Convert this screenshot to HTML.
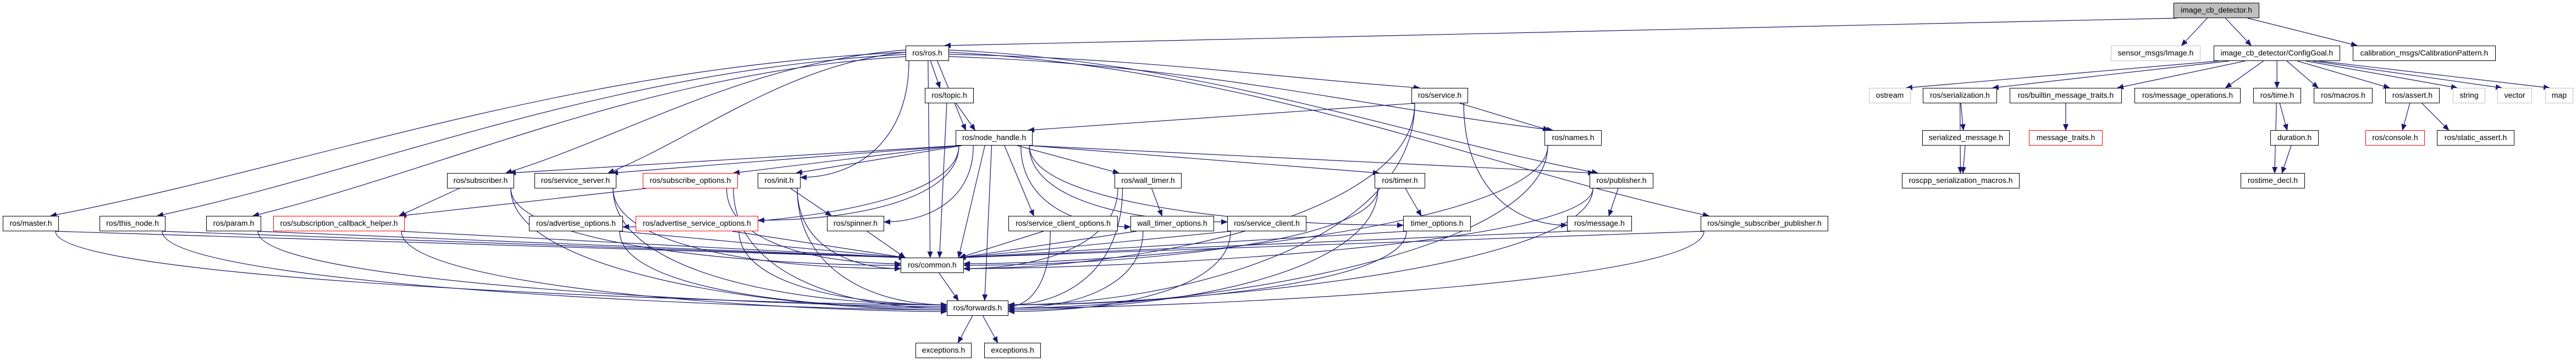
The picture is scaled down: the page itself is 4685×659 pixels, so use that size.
<!DOCTYPE html>
<html><head><meta charset="utf-8">
<style>
html,body{margin:0;padding:0;background:#fff;}
#c{position:relative;width:4685px;height:659px;overflow:hidden;background:#fff;}
svg{position:absolute;left:0;top:0;}
.n{position:absolute;height:28px;box-sizing:border-box;border:1.5px solid #000;background:#fff;font:14px "Liberation Sans",sans-serif;line-height:25px;text-align:center;white-space:nowrap;color:#000;z-index:2;}
.r{border-color:#ff0000;}
.g{border-color:#bfbfbf;}
.f{background:#bfbfbf;}
</style></head><body>
<div id="c">
<svg id="s" width="4685" height="659" viewBox="0 0 4685 659">
<defs><marker id="a" markerUnits="userSpaceOnUse" markerWidth="12" markerHeight="10" refX="11" refY="5" orient="auto"><path d="M0,0 L12,5 L0,10 z" fill="#191970"/></marker></defs>
<g id="e" fill="none" stroke="#191970" stroke-width="1.2"></g>
</svg>
<div class="n f" style="left:3953px;top:5px;width:156px">image_cb_detector.h</div>
<div class="n" style="left:1647px;top:83px;width:79px">ros/ros.h</div>
<div class="n g" style="left:3839px;top:83px;width:163px">sensor_msgs/Image.h</div>
<div class="n" style="left:4026px;top:83px;width:230px">image_cb_detector/ConfigGoal.h</div>
<div class="n" style="left:4279px;top:83px;width:260px">calibration_msgs/CalibrationPattern.h</div>
<div class="n" style="left:1682px;top:160px;width:89px">ros/topic.h</div>
<div class="n" style="left:2567px;top:160px;width:103px">ros/service.h</div>
<div class="n g" style="left:3399px;top:160px;width:76px">ostream</div>
<div class="n" style="left:3497px;top:160px;width:135px">ros/serialization.h</div>
<div class="n" style="left:3655px;top:160px;width:204px">ros/builtin_message_traits.h</div>
<div class="n" style="left:3882px;top:160px;width:193px">ros/message_operations.h</div>
<div class="n" style="left:4098px;top:160px;width:87px">ros/time.h</div>
<div class="n" style="left:4208px;top:160px;width:107px">ros/macros.h</div>
<div class="n" style="left:4338px;top:160px;width:99px">ros/assert.h</div>
<div class="n g" style="left:4461px;top:160px;width:59px">string</div>
<div class="n g" style="left:4542px;top:160px;width:63px">vector</div>
<div class="n g" style="left:4629px;top:160px;width:51px">map</div>
<div class="n" style="left:1738px;top:237px;width:140px">ros/node_handle.h</div>
<div class="n" style="left:2809px;top:237px;width:104px">ros/names.h</div>
<div class="n" style="left:3496px;top:237px;width:159px">serialized_message.h</div>
<div class="n r" style="left:3690px;top:237px;width:134px">message_traits.h</div>
<div class="n" style="left:4129px;top:237px;width:88px">duration.h</div>
<div class="n r" style="left:4302px;top:237px;width:108px">ros/console.h</div>
<div class="n" style="left:4432px;top:237px;width:141px">ros/static_assert.h</div>
<div class="n" style="left:813px;top:315px;width:122px">ros/subscriber.h</div>
<div class="n" style="left:972px;top:315px;width:149px">ros/service_server.h</div>
<div class="n r" style="left:1169px;top:315px;width:173px">ros/subscribe_options.h</div>
<div class="n" style="left:1378px;top:315px;width:78px">ros/init.h</div>
<div class="n" style="left:2027px;top:315px;width:122px">ros/wall_timer.h</div>
<div class="n" style="left:2500px;top:315px;width:92px">ros/timer.h</div>
<div class="n" style="left:2891px;top:315px;width:116px">ros/publisher.h</div>
<div class="n" style="left:3459px;top:315px;width:214px">roscpp_serialization_macros.h</div>
<div class="n" style="left:4075px;top:315px;width:117px">rostime_decl.h</div>
<div class="n" style="left:5px;top:393px;width:102px">ros/master.h</div>
<div class="n" style="left:181px;top:393px;width:120px">ros/this_node.h</div>
<div class="n" style="left:375px;top:393px;width:100px">ros/param.h</div>
<div class="n r" style="left:497px;top:393px;width:239px">ros/subscription_callback_helper.h</div>
<div class="n" style="left:962px;top:393px;width:171px">ros/advertise_options.h</div>
<div class="n r" style="left:1156px;top:393px;width:223px">ros/advertise_service_options.h</div>
<div class="n" style="left:1504px;top:393px;width:104px">ros/spinner.h</div>
<div class="n" style="left:1834px;top:393px;width:199px">ros/service_client_options.h</div>
<div class="n" style="left:2056px;top:393px;width:152px">wall_timer_options.h</div>
<div class="n" style="left:2232px;top:393px;width:144px">ros/service_client.h</div>
<div class="n" style="left:2552px;top:393px;width:123px">timer_options.h</div>
<div class="n" style="left:2850px;top:393px;width:118px">ros/message.h</div>
<div class="n" style="left:3093px;top:393px;width:232px">ros/single_subscriber_publisher.h</div>
<div class="n" style="left:1638px;top:469px;width:115px">ros/common.h</div>
<div class="n" style="left:1722px;top:547px;width:112px">ros/forwards.h</div>
<div class="n" style="left:1665px;top:624px;width:102px">exceptions.h</div>
<div class="n" style="left:1790px;top:624px;width:103px">exceptions.h</div>
</div>
<script>
var R=[5,83,160,237,315,393,469,547,624];
var D={icb:[3953,4109,0],ros:[1647,1726,1],sensor:[3839,4002,1],cfg:[4026,4256,1],calib:[4279,4539,1],
topic:[1682,1771,2],service:[2567,2670,2],ostream:[3399,3475,2],ser:[3497,3632,2],bmt:[3655,3859,2],mops:[3882,4075,2],time:[4098,4185,2],macros:[4208,4315,2],assert:[4338,4437,2],string:[4461,4520,2],vector:[4542,4605,2],map:[4629,4680,2],
nh:[1738,1878,3],names:[2809,2913,3],sm:[3496,3655,3],mt:[3690,3824,3],dur:[4129,4217,3],console:[4302,4410,3],sa:[4432,4573,3],
sub:[813,935,4],ss:[972,1121,4],so:[1169,1342,4],init:[1378,1456,4],wt:[2027,2149,4],timer:[2500,2592,4],pub:[2891,3007,4],rsm:[3459,3673,4],rtd:[4075,4192,4],
master:[5,107,5],tn:[181,301,5],param:[375,475,5],sch:[497,736,5],ao:[962,1133,5],aso:[1156,1379,5],spin:[1504,1608,5],sco:[1834,2033,5],wto:[2056,2208,5],sc:[2232,2376,5],to:[2552,2675,5],msg:[2850,2968,5],ssp:[3093,3325,5],
common:[1638,1753,6],fwd:[1722,1834,7],ex1:[1665,1767,8],ex2:[1790,1893,8]};
var E="icb>ros icb>sensor icb>cfg icb>calib ros>master ros>tn ros>param ros>sub ros>ss ros>init ros>topic ros>nh ros>common ros>service ros>names ros>pub ros>ssp "+
"topic>nh topic>common nh>sub nh>ss nh>so nh>init nh>ao nh>aso nh>spin nh>common nh>sco nh>wto nh>wt nh>sc nh>timer nh>to nh>pub nh>fwd "+
"service>nh service>names service>msg service>common service>fwd names>common names>fwd pub>msg pub>common pub>fwd timer>to timer>common timer>fwd to>common to>fwd ssp>common ssp>fwd "+
"wt>wto wt>common wt>fwd wto>common wto>fwd sc>common sc>fwd sco>common sco>fwd spin>common init>spin init>common init>fwd so>common so>fwd so>sch aso>common aso>fwd ao>common ao>fwd "+
"sch>common sch>fwd param>common param>fwd tn>common tn>fwd master>common master>fwd sub>sch sub>common sub>fwd ss>common ss>fwd common>fwd fwd>ex1 fwd>ex2 msg>common "+
"cfg>ostream cfg>ser cfg>bmt cfg>mops cfg>time cfg>macros cfg>assert cfg>string cfg>vector cfg>map ser>sm ser>rsm sm>rsm bmt>mt time>dur time>rtd dur>rtd assert>console assert>sa";
var g=document.getElementById('e'),ns="http://www.w3.org/2000/svg",k=0;
function cl(v,a,b){return Math.max(a,Math.min(b,v));}
E.split(' ').forEach(function(p){var q=p.split('>');var s=D[q[0]],t=D[q[1]];if(!s||!t)return;k++;
var sy1=R[s[2]],sy2=sy1+28,ty1=R[t[2]];var scx=(s[0]+s[1])/2,tcx=(t[0]+t[1])/2,d,x1,y1,x2,y2;
if(t[2]<=s[2]){x1=s[0];y1=sy1+14;x2=t[1];y2=ty1+14;d="M"+x1+","+y1+" L"+x2+","+y2;}
else{
 var dyr=ty1-sy2, far=Math.abs(tcx-scx);
 var tgtCommon=(q[1]==='common'||q[1]==='fwd');
 if(q[0]==='ros' && !tgtCommon && far>3*dyr && far>250){
  var sg=tcx>scx?1:-1;x1=sg>0?s[1]:s[0];y1=sy1+8+(k%4)*4;
  x2=sg>0?cl(t[0]+15,t[0],t[1]):cl(t[1]-15,t[0],t[1]);y2=ty1;
  d="M"+x1+","+y1+" C"+(x1+(x2-x1)*0.4)+","+(y1+(y2-y1)*0.1)+" "+(x2-(x2-x1)*0.3)+","+(y2-(y2-y1)*0.3)+" "+x2+","+y2;
 } else {
  x1=cl(scx+(tcx-scx)*0.15,s[0]+6,s[1]-6);y1=sy2;var dy=ty1-y1;
  if(Math.abs(tcx-x1)>(t[1]-t[0])/2+60&&dy>60){var sg2=tcx>x1?1:-1;x2=sg2>0?t[0]:t[1];y2=ty1+8+(k%5)*3;
   d="M"+x1+","+y1+" C"+x1+","+(y1+(y2-y1)*0.7)+" "+(x2-sg2*Math.min(Math.abs(x2-x1)*0.5,300))+","+y2+" "+x2+","+y2;}
  else{x2=cl(x1+(tcx-x1)*0.5,t[0]+8,t[1]-8);y2=ty1;d="M"+x1+","+y1+" L"+x2+","+y2;}
 }}
var el=document.createElementNS(ns,'path');el.setAttribute('d',d);el.setAttribute('marker-end','url(#a)');g.appendChild(el);});
</script>
</body></html>
